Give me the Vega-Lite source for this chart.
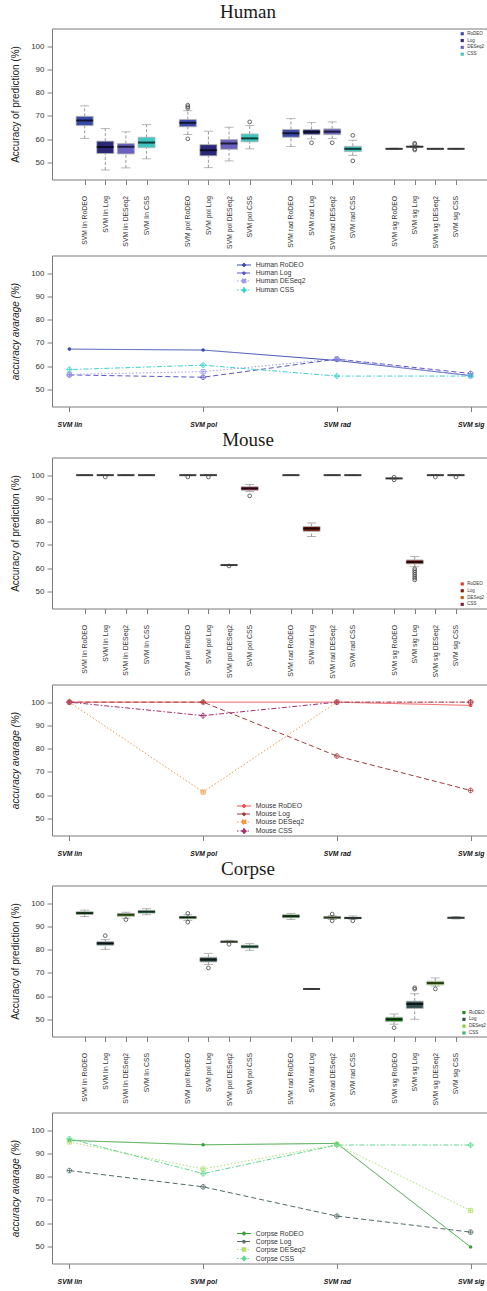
{
"$schema":"https://vega.github.io/schema/vega-lite/v6.json",
"background":"white",
"padding":{"left":10,"top":2.5,"right":0,"bottom":0},
"config":{"view":{"stroke":"#7a7a7a","strokeWidth":1},
"axis":{"domain":false,"grid":false,"tickColor":"#808080","tickSize":5,"labelColor":"#333","labelFont":"Liberation Sans","titleFont":"Liberation Sans","titleFontWeight":"normal","titleColor":"#222","labelFlush":false,"labelOverlap":false,"labelBound":false},
"axisY":{"titleFontSize":10,"titlePadding":10,"labelFontSize":8,"labelPadding":3},
"legend":{"labelFont":"Liberation Sans","labelColor":"#333"}},
"datasets":{
"hbox":[
{"pos":1,"method":"RoDEO","lo":60.3,"q1":65.8,"med":68.0,"q3":69.8,"hi":74.3},
{"pos":2,"method":"Log","lo":46.7,"q1":53.8,"med":56.6,"q3":59.1,"hi":64.5},
{"pos":3,"method":"DESeq2","lo":47.6,"q1":53.6,"med":56.7,"q3":58.1,"hi":63.1},
{"pos":4,"method":"CSS","lo":51.5,"q1":56.3,"med":58.5,"q3":60.8,"hi":66.2},
{"pos":6,"method":"RoDEO","lo":62.0,"q1":65.3,"med":67.0,"q3":68.4,"hi":72.2},
{"pos":7,"method":"Log","lo":47.7,"q1":52.8,"med":55.2,"q3":57.6,"hi":63.4},
{"pos":8,"method":"DESeq2","lo":50.6,"q1":55.6,"med":58.1,"q3":59.8,"hi":65.1},
{"pos":9,"method":"CSS","lo":55.8,"q1":58.8,"med":60.3,"q3":62.2,"hi":65.8},
{"pos":11,"method":"RoDEO","lo":56.8,"q1":60.8,"med":62.5,"q3":64.1,"hi":68.8},
{"pos":12,"method":"Log","lo":60.1,"q1":61.9,"med":63.1,"q3":64.1,"hi":67.1},
{"pos":13,"method":"DESeq2","lo":60.2,"q1":61.9,"med":63.2,"q3":64.4,"hi":67.4},
{"pos":14,"method":"CSS","lo":53.0,"q1":54.6,"med":55.8,"q3":56.9,"hi":59.5},
{"pos":16,"method":"RoDEO","lo":55.5,"q1":55.7,"med":55.8,"q3":55.9,"hi":56.1},
{"pos":17,"method":"Log","lo":56.3,"q1":56.6,"med":56.7,"q3":56.9,"hi":57.2},
{"pos":18,"method":"DESeq2","lo":55.6,"q1":55.7,"med":55.8,"q3":55.9,"hi":56.0},
{"pos":19,"method":"CSS","lo":55.6,"q1":55.7,"med":55.8,"q3":55.9,"hi":56.0}],
"hout":[{"pos":6,"v":74.6},{"pos":6,"v":73.9},{"pos":6,"v":73.3},{"pos":6,"v":60.1},{"pos":9,"v":67.4},{"pos":12,"v":58.4},{"pos":13,"v":58.4},{"pos":14,"v":61.6},{"pos":14,"v":50.6},{"pos":17,"v":58.2},{"pos":17,"v":57.7},{"pos":17,"v":55.8},{"pos":17,"v":55.3}],
"mbox":[
{"pos":1,"method":"RoDEO","lo":100,"q1":100,"med":100,"q3":100,"hi":100},
{"pos":2,"method":"Log","lo":100,"q1":100,"med":100,"q3":100,"hi":100},
{"pos":3,"method":"DESeq2","lo":100,"q1":100,"med":100,"q3":100,"hi":100},
{"pos":4,"method":"CSS","lo":100,"q1":100,"med":100,"q3":100,"hi":100},
{"pos":6,"method":"RoDEO","lo":100,"q1":100,"med":100,"q3":100,"hi":100},
{"pos":7,"method":"Log","lo":100,"q1":100,"med":100,"q3":100,"hi":100},
{"pos":8,"method":"DESeq2","lo":61.2,"q1":61.3,"med":61.3,"q3":61.3,"hi":61.4},
{"pos":9,"method":"CSS","lo":93.0,"q1":93.5,"med":94.3,"q3":95.0,"hi":96.0},
{"pos":11,"method":"RoDEO","lo":100,"q1":100,"med":100,"q3":100,"hi":100},
{"pos":12,"method":"Log","lo":73.6,"q1":75.8,"med":77.0,"q3":77.9,"hi":79.4},
{"pos":13,"method":"DESeq2","lo":100,"q1":100,"med":100,"q3":100,"hi":100},
{"pos":14,"method":"CSS","lo":100,"q1":100,"med":100,"q3":100,"hi":100},
{"pos":16,"method":"RoDEO","lo":98.4,"q1":98.5,"med":98.6,"q3":98.7,"hi":98.8},
{"pos":17,"method":"Log","lo":60.6,"q1":61.8,"med":62.6,"q3":63.5,"hi":65.0},
{"pos":18,"method":"DESeq2","lo":100,"q1":100,"med":100,"q3":100,"hi":100},
{"pos":19,"method":"CSS","lo":100,"q1":100,"med":100,"q3":100,"hi":100}],
"mout":[{"pos":2,"v":99.2},{"pos":6,"v":99.2},{"pos":7,"v":99.2},{"pos":8,"v":60.9},{"pos":9,"v":91.1},{"pos":16,"v":98.0},{"pos":16,"v":99.1},{"pos":17,"v":59.7},{"pos":17,"v":58.9},{"pos":17,"v":58.1},{"pos":17,"v":57.3},{"pos":17,"v":56.5},{"pos":17,"v":55.7},{"pos":17,"v":54.9},{"pos":18,"v":99.2},{"pos":19,"v":99.2}],
"cbox":[
{"pos":1,"method":"RoDEO","lo":94.2,"q1":95.2,"med":95.7,"q3":96.3,"hi":97.0},
{"pos":2,"method":"Log","lo":80.1,"q1":81.9,"med":82.7,"q3":83.4,"hi":84.3},
{"pos":3,"method":"DESeq2","lo":93.5,"q1":94.3,"med":95.0,"q3":95.6,"hi":96.1},
{"pos":4,"method":"CSS","lo":95.0,"q1":95.7,"med":96.3,"q3":96.9,"hi":97.6},
{"pos":6,"method":"RoDEO","lo":92.6,"q1":93.3,"med":93.9,"q3":94.3,"hi":95.0},
{"pos":7,"method":"Log","lo":73.6,"q1":74.7,"med":75.7,"q3":76.7,"hi":78.4},
{"pos":8,"method":"DESeq2","lo":83.0,"q1":83.1,"med":83.4,"q3":83.7,"hi":84.0},
{"pos":9,"method":"CSS","lo":79.7,"q1":80.7,"med":81.3,"q3":81.9,"hi":82.6},
{"pos":11,"method":"RoDEO","lo":93.0,"q1":93.7,"med":94.4,"q3":95.0,"hi":95.6},
{"pos":12,"method":"Log","lo":63.1,"q1":63.1,"med":63.1,"q3":63.1,"hi":63.1},
{"pos":13,"method":"DESeq2","lo":93.0,"q1":93.4,"med":93.8,"q3":94.2,"hi":94.6},
{"pos":14,"method":"CSS","lo":93.0,"q1":93.3,"med":93.6,"q3":94.0,"hi":94.5},
{"pos":16,"method":"RoDEO","lo":47.9,"q1":49.0,"med":50.0,"q3":50.9,"hi":52.3},
{"pos":17,"method":"Log","lo":50.0,"q1":54.7,"med":56.6,"q3":57.8,"hi":61.0},
{"pos":18,"method":"DESeq2","lo":64.3,"q1":64.8,"med":65.6,"q3":66.4,"hi":67.8},
{"pos":19,"method":"CSS","lo":93.2,"q1":93.5,"med":93.7,"q3":93.9,"hi":94.3}],
"cout":[{"pos":2,"v":86.0},{"pos":3,"v":92.9},{"pos":6,"v":95.6},{"pos":6,"v":91.8},{"pos":7,"v":72.1},{"pos":8,"v":82.3},{"pos":13,"v":95.3},{"pos":13,"v":92.4},{"pos":14,"v":92.4},{"pos":16,"v":46.4},{"pos":17,"v":63.0},{"pos":17,"v":63.6},{"pos":18,"v":63.1}],
"hline":[
{"k":1,"method":"Human RoDEO","v":67.3},{"k":2,"method":"Human RoDEO","v":66.9},{"k":3,"method":"Human RoDEO","v":62.4},{"k":4,"method":"Human RoDEO","v":55.9},
{"k":1,"method":"Human Log","v":56.2},{"k":2,"method":"Human Log","v":55.2},{"k":3,"method":"Human Log","v":63.0},{"k":4,"method":"Human Log","v":56.8},
{"k":1,"method":"Human DESeq2","v":56.4},{"k":2,"method":"Human DESeq2","v":57.6},{"k":3,"method":"Human DESeq2","v":63.1},{"k":4,"method":"Human DESeq2","v":55.8},
{"k":1,"method":"Human CSS","v":58.5},{"k":2,"method":"Human CSS","v":60.4},{"k":3,"method":"Human CSS","v":55.7},{"k":4,"method":"Human CSS","v":55.7}],
"mline":[
{"k":1,"method":"Mouse RoDEO","v":100},{"k":2,"method":"Mouse RoDEO","v":100},{"k":3,"method":"Mouse RoDEO","v":100},{"k":4,"method":"Mouse RoDEO","v":98.6},
{"k":1,"method":"Mouse Log","v":100},{"k":2,"method":"Mouse Log","v":100},{"k":3,"method":"Mouse Log","v":76.8},{"k":4,"method":"Mouse Log","v":62.0},
{"k":1,"method":"Mouse DESeq2","v":100},{"k":2,"method":"Mouse DESeq2","v":61.3},{"k":3,"method":"Mouse DESeq2","v":100},{"k":4,"method":"Mouse DESeq2","v":100},
{"k":1,"method":"Mouse CSS","v":100},{"k":2,"method":"Mouse CSS","v":94.2},{"k":3,"method":"Mouse CSS","v":100},{"k":4,"method":"Mouse CSS","v":100}],
"cline":[
{"k":1,"method":"Corpse RoDEO","v":95.6},{"k":2,"method":"Corpse RoDEO","v":93.7},{"k":3,"method":"Corpse RoDEO","v":94.3},{"k":4,"method":"Corpse RoDEO","v":49.7},
{"k":1,"method":"Corpse Log","v":82.6},{"k":2,"method":"Corpse Log","v":75.6},{"k":3,"method":"Corpse Log","v":63.0},{"k":4,"method":"Corpse Log","v":56.1},
{"k":1,"method":"Corpse DESeq2","v":94.9},{"k":2,"method":"Corpse DESeq2","v":83.3},{"k":3,"method":"Corpse DESeq2","v":93.8},{"k":4,"method":"Corpse DESeq2","v":65.4},
{"k":1,"method":"Corpse CSS","v":96.3},{"k":2,"method":"Corpse CSS","v":81.3},{"k":3,"method":"Corpse CSS","v":93.6},{"k":4,"method":"Corpse CSS","v":93.6}]
},
"spacing":0,
"resolve":{"scale":{"color":"independent","strokeDash":"independent","shape":"independent"},"legend":{"color":"independent","strokeDash":"independent","shape":"independent"}},
"vconcat":[
{"bounds":"flush","spacing":76,
"resolve":{"scale":{"color":"independent","strokeDash":"independent","shape":"independent"},"legend":{"color":"independent","strokeDash":"independent","shape":"independent"}},
"vconcat":[
{"width":436,"height":151,
"title":{"text":"Human","font":"Liberation Serif","fontSize":19,"fontWeight":"normal","color":"#1a1a1a","anchor":"middle","frame":"group","dx":-22,"offset":-8.5,"baseline":"alphabetic"},
"data":{"name":"hbox"},
"encoding":{"x":{"field":"pos","type":"quantitative","scale":{"domain":[-0.34,20.31],"nice":false,"zero":false},"axis":{"values":[1,2,3,4,6,7,8,9,11,12,13,14,16,17,18,19],"labelExpr":"['','SVM lin RoDEO','SVM lin Log','SVM lin DESeq2','SVM lin CSS','','SVM pol RoDEO','SVM pol Log','SVM pol DESeq2','SVM pol CSS','','SVM rad RoDEO','SVM rad Log','SVM rad DESeq2','SVM rad CSS','','SVM sig RoDEO','SVM sig Log','SVM sig DESeq2','SVM sig CSS'][datum.value]","title":null,"labelAngle":270,"labelFontSize":6.8,"labelPadding":11}}},
"layer":[
{"mark":{"type":"rule","strokeDash":[3,2],"color":"#8c8c8c","strokeWidth":0.9},"encoding":{"y":{"field":"lo","type":"quantitative","scale":{"domain":[42.6,107.6],"nice":false,"zero":false},"axis":{"values":[50,60,70,80,90,100],"title":"Accuracy of prediction (%)"}},"y2":{"field":"q1"}}},
{"mark":{"type":"rule","strokeDash":[3,2],"color":"#8c8c8c","strokeWidth":0.9},"encoding":{"y":{"field":"q3","type":"quantitative","scale":{"domain":[42.6,107.6],"nice":false,"zero":false},"axis":{"values":[50,60,70,80,90,100],"title":"Accuracy of prediction (%)"}},"y2":{"field":"hi"}}},
{"mark":{"type":"tick","orient":"horizontal","size":9,"thickness":0.9,"color":"#8c8c8c"},"encoding":{"y":{"field":"lo","type":"quantitative","scale":{"domain":[42.6,107.6],"nice":false,"zero":false},"axis":{"values":[50,60,70,80,90,100],"title":"Accuracy of prediction (%)"}}}},
{"mark":{"type":"tick","orient":"horizontal","size":9,"thickness":0.9,"color":"#8c8c8c"},"encoding":{"y":{"field":"hi","type":"quantitative","scale":{"domain":[42.6,107.6],"nice":false,"zero":false},"axis":{"values":[50,60,70,80,90,100],"title":"Accuracy of prediction (%)"}}}},
{"mark":{"type":"bar","size":17,"stroke":"#b4b4b4","strokeWidth":0.8},"encoding":{"y":{"field":"q1","type":"quantitative","scale":{"domain":[42.6,107.6],"nice":false,"zero":false},"axis":{"values":[50,60,70,80,90,100],"title":"Accuracy of prediction (%)"}},"y2":{"field":"q3"},"color":{"field":"method","type":"nominal","scale":{"domain":["RoDEO","Log","DESeq2","CSS"],"range":["#3a4aa8","#2b2878","#6a62c0","#3ec6c0"]},"legend":{"orient":"none","legendX":408,"legendY":3,"title":null,"symbolType":"square","symbolSize":10,"symbolStrokeWidth":0,"labelFontSize":4.5,"labelOffset":2.75,"rowPadding":1.8,"padding":0}}}},
{"mark":{"type":"tick","orient":"horizontal","size":17,"thickness":2,"color":"#000"},"encoding":{"y":{"field":"med","type":"quantitative","scale":{"domain":[42.6,107.6],"nice":false,"zero":false},"axis":{"values":[50,60,70,80,90,100],"title":"Accuracy of prediction (%)"}}}},
{"data":{"name":"hout"},"mark":{"type":"point","shape":"circle","filled":false,"color":"#444","strokeWidth":0.8,"size":14,"opacity":1},"encoding":{"y":{"field":"v","type":"quantitative","scale":{"domain":[42.6,107.6],"nice":false,"zero":false},"axis":{"values":[50,60,70,80,90,100],"title":"Accuracy of prediction (%)"}}}}
]},
{"width":436,"height":151,
"data":{"name":"hline"},
"encoding":{"x":{"field":"k","type":"quantitative","scale":{"domain":[0.87,4.13],"nice":false,"zero":false},"axis":{"values":[1,2,3,4],"labelExpr":"['','SVM lin','SVM pol','SVM rad','SVM sig'][datum.value]","title":null,"labelFontStyle":"italic","labelFontWeight":"bold","labelFontSize":6.8,"labelColor":"#111","labelPadding":10,"labelAngle":0}},
"y":{"field":"v","type":"quantitative","scale":{"domain":[42.6,107.6],"nice":false,"zero":false},"axis":{"values":[50,60,70,80,90,100],"title":"accuracy avarage (%)","titleFontStyle":"italic"}}},
"layer":[
{"mark":{"type":"line","strokeWidth":1},"encoding":{
"color":{"field":"method","type":"nominal","scale":{"domain":["Human RoDEO","Human Log","Human DESeq2","Human CSS"],"range":["#3a4cb0","#5a55c8","#a09ae8","#40d0d0"]},"legend":{"orient":"none","legendX":188,"legendY":5.5,"title":null,"symbolType":"stroke","symbolSize":49,"symbolStrokeWidth":1,"labelFontSize":6.9,"labelOffset":7.7,"rowPadding":-1,"padding":0,"encode":{"symbols":{"update":{"shape":{"signal":"indexof(datum.value,'DESeq2')>=0 ? 'M-2,0L2,0M-0.6,-0.6L0.6,-0.6L0.6,0.6L-0.6,0.6ZM0,-0.6L0,0.6' : indexof(datum.value,'CSS')>=0 ? 'M-2,0L2,0M0,-0.75L0.75,0L0,0.75L-0.75,0ZM0,-0.75L0,0.75' : 'M-2,0L2,0M-0.45,0A0.45,0.45 0 1,0 0.45,0A0.45,0.45 0 1,0 -0.45,0'"},"fill":{"signal":"indexof(datum.value,'RoDEO')>=0 ? '#3a4cb0' : indexof(datum.value,'Log')>=0 ? '#5a55c8' : 'transparent'"}}}}}},
"strokeDash":{"field":"method","type":"nominal","scale":{"domain":["Human RoDEO","Human Log","Human DESeq2","Human CSS"],"range":[[1,0],[5,3],[1.5,2],[1.5,2,5,2]]},"legend":{"orient":"none","legendX":188,"legendY":5.5,"title":null,"symbolType":"stroke","symbolSize":49,"symbolStrokeWidth":1,"labelFontSize":6.9,"labelOffset":7.7,"rowPadding":-1,"padding":0}}}},
{"transform":[{"filter":"datum.method == 'Human RoDEO'"}],"mark":{"type":"point","shape":"circle","filled":true,"size":13,"opacity":1},"encoding":{"color":{"field":"method","type":"nominal","scale":{"domain":["Human RoDEO","Human Log","Human DESeq2","Human CSS"],"range":["#3a4cb0","#5a55c8","#a09ae8","#40d0d0"]},"legend":null}}},
{"transform":[{"filter":"datum.method != 'Human RoDEO'"}],"mark":{"type":"point","filled":false,"size":22,"strokeWidth":0.8,"opacity":1},"encoding":{"color":{"field":"method","type":"nominal","scale":{"domain":["Human RoDEO","Human Log","Human DESeq2","Human CSS"],"range":["#3a4cb0","#5a55c8","#a09ae8","#40d0d0"]},"legend":null},"shape":{"field":"method","type":"nominal","scale":{"domain":["Human Log","Human DESeq2","Human CSS"],"range":["M-1,0A1,1 0 1,0 1,0A1,1 0 1,0 -1,0ZM-1,0L1,0M0,-1L0,1","M-0.9,-0.9L0.9,-0.9L0.9,0.9L-0.9,0.9ZM-0.9,0L0.9,0M0,-0.9L0,0.9","M0,-1.2L1.2,0L0,1.2L-1.2,0ZM-1.2,0L1.2,0M0,-1.2L0,1.2"]},"legend":null}}}
]}
]},
{"bounds":"flush","spacing":76,
"resolve":{"scale":{"color":"independent","strokeDash":"independent","shape":"independent"},"legend":{"color":"independent","strokeDash":"independent","shape":"independent"}},
"vconcat":[
{"width":436,"height":151,
"title":{"text":"Mouse","font":"Liberation Serif","fontSize":19,"fontWeight":"normal","color":"#1a1a1a","anchor":"middle","frame":"group","dx":-22,"offset":-7,"baseline":"alphabetic"},
"data":{"name":"mbox"},
"encoding":{"x":{"field":"pos","type":"quantitative","scale":{"domain":[-0.34,20.31],"nice":false,"zero":false},"axis":{"values":[1,2,3,4,6,7,8,9,11,12,13,14,16,17,18,19],"labelExpr":"['','SVM lin RoDEO','SVM lin Log','SVM lin DESeq2','SVM lin CSS','','SVM pol RoDEO','SVM pol Log','SVM pol DESeq2','SVM pol CSS','','SVM rad RoDEO','SVM rad Log','SVM rad DESeq2','SVM rad CSS','','SVM sig RoDEO','SVM sig Log','SVM sig DESeq2','SVM sig CSS'][datum.value]","title":null,"labelAngle":270,"labelFontSize":6.8,"labelPadding":11}}},
"layer":[
{"mark":{"type":"rule","strokeDash":[3,2],"color":"#8c8c8c","strokeWidth":0.9},"encoding":{"y":{"field":"lo","type":"quantitative","scale":{"domain":[42.6,107.6],"nice":false,"zero":false},"axis":{"values":[50,60,70,80,90,100],"title":"Accuracy of prediction (%)"}},"y2":{"field":"q1"}}},
{"mark":{"type":"rule","strokeDash":[3,2],"color":"#8c8c8c","strokeWidth":0.9},"encoding":{"y":{"field":"q3","type":"quantitative","scale":{"domain":[42.6,107.6],"nice":false,"zero":false},"axis":{"values":[50,60,70,80,90,100],"title":"Accuracy of prediction (%)"}},"y2":{"field":"hi"}}},
{"mark":{"type":"tick","orient":"horizontal","size":9,"thickness":0.9,"color":"#8c8c8c"},"encoding":{"y":{"field":"lo","type":"quantitative","scale":{"domain":[42.6,107.6],"nice":false,"zero":false},"axis":{"values":[50,60,70,80,90,100],"title":"Accuracy of prediction (%)"}}}},
{"mark":{"type":"tick","orient":"horizontal","size":9,"thickness":0.9,"color":"#8c8c8c"},"encoding":{"y":{"field":"hi","type":"quantitative","scale":{"domain":[42.6,107.6],"nice":false,"zero":false},"axis":{"values":[50,60,70,80,90,100],"title":"Accuracy of prediction (%)"}}}},
{"mark":{"type":"bar","size":17,"stroke":"#b4b4b4","strokeWidth":0.8},"encoding":{"y":{"field":"q1","type":"quantitative","scale":{"domain":[42.6,107.6],"nice":false,"zero":false},"axis":{"values":[50,60,70,80,90,100],"title":"Accuracy of prediction (%)"}},"y2":{"field":"q3"},"color":{"field":"method","type":"nominal","scale":{"domain":["RoDEO","Log","DESeq2","CSS"],"range":["#e03a28","#7a1c14","#c8620e","#861846"]},"legend":{"orient":"none","legendX":408,"legendY":124.2,"title":null,"symbolType":"square","symbolSize":10,"symbolStrokeWidth":0,"labelFontSize":4.5,"labelOffset":2.75,"rowPadding":1.8,"padding":0}}}},
{"mark":{"type":"tick","orient":"horizontal","size":17,"thickness":2,"color":"#000"},"encoding":{"y":{"field":"med","type":"quantitative","scale":{"domain":[42.6,107.6],"nice":false,"zero":false},"axis":{"values":[50,60,70,80,90,100],"title":"Accuracy of prediction (%)"}}}},
{"data":{"name":"mout"},"mark":{"type":"point","shape":"circle","filled":false,"color":"#444","strokeWidth":0.8,"size":14,"opacity":1},"encoding":{"y":{"field":"v","type":"quantitative","scale":{"domain":[42.6,107.6],"nice":false,"zero":false},"axis":{"values":[50,60,70,80,90,100],"title":"Accuracy of prediction (%)"}}}}
]},
{"width":436,"height":151,
"data":{"name":"mline"},
"encoding":{"x":{"field":"k","type":"quantitative","scale":{"domain":[0.87,4.13],"nice":false,"zero":false},"axis":{"values":[1,2,3,4],"labelExpr":"['','SVM lin','SVM pol','SVM rad','SVM sig'][datum.value]","title":null,"labelFontStyle":"italic","labelFontWeight":"bold","labelFontSize":6.8,"labelColor":"#111","labelPadding":10,"labelAngle":0}},
"y":{"field":"v","type":"quantitative","scale":{"domain":[42.6,107.6],"nice":false,"zero":false},"axis":{"values":[50,60,70,80,90,100],"title":"accuracy avarage (%)","titleFontStyle":"italic"}}},
"layer":[
{"mark":{"type":"line","strokeWidth":1},"encoding":{
"color":{"field":"method","type":"nominal","scale":{"domain":["Mouse RoDEO","Mouse Log","Mouse DESeq2","Mouse CSS"],"range":["#ee5050","#a03c3c","#f09a48","#a0306e"]},"legend":{"orient":"none","legendX":188,"legendY":117.5,"title":null,"symbolType":"stroke","symbolSize":49,"symbolStrokeWidth":1,"labelFontSize":6.9,"labelOffset":7.7,"rowPadding":-1,"padding":0,"encode":{"symbols":{"update":{"shape":{"signal":"indexof(datum.value,'DESeq2')>=0 ? 'M-2,0L2,0M-0.6,-0.6L0.6,-0.6L0.6,0.6L-0.6,0.6ZM0,-0.6L0,0.6' : indexof(datum.value,'CSS')>=0 ? 'M-2,0L2,0M0,-0.75L0.75,0L0,0.75L-0.75,0ZM0,-0.75L0,0.75' : 'M-2,0L2,0M-0.45,0A0.45,0.45 0 1,0 0.45,0A0.45,0.45 0 1,0 -0.45,0'"},"fill":{"signal":"indexof(datum.value,'RoDEO')>=0 ? '#ee5050' : indexof(datum.value,'Log')>=0 ? '#a03c3c' : 'transparent'"}}}}}},
"strokeDash":{"field":"method","type":"nominal","scale":{"domain":["Mouse RoDEO","Mouse Log","Mouse DESeq2","Mouse CSS"],"range":[[1,0],[5,3],[1.5,2],[1.5,2,5,2]]},"legend":{"orient":"none","legendX":188,"legendY":117.5,"title":null,"symbolType":"stroke","symbolSize":49,"symbolStrokeWidth":1,"labelFontSize":6.9,"labelOffset":7.7,"rowPadding":-1,"padding":0}}}},
{"transform":[{"filter":"datum.method == 'Mouse RoDEO'"}],"mark":{"type":"point","shape":"circle","filled":true,"size":13,"opacity":1},"encoding":{"color":{"field":"method","type":"nominal","scale":{"domain":["Mouse RoDEO","Mouse Log","Mouse DESeq2","Mouse CSS"],"range":["#e03a3a","#a03c3c","#f09a48","#a0306e"]},"legend":null}}},
{"transform":[{"filter":"datum.method != 'Mouse RoDEO'"}],"mark":{"type":"point","filled":false,"size":22,"strokeWidth":0.8,"opacity":1},"encoding":{"color":{"field":"method","type":"nominal","scale":{"domain":["Mouse RoDEO","Mouse Log","Mouse DESeq2","Mouse CSS"],"range":["#e03a3a","#a03c3c","#f09a48","#a0306e"]},"legend":null},"shape":{"field":"method","type":"nominal","scale":{"domain":["Mouse Log","Mouse DESeq2","Mouse CSS"],"range":["M-1,0A1,1 0 1,0 1,0A1,1 0 1,0 -1,0ZM-1,0L1,0M0,-1L0,1","M-0.9,-0.9L0.9,-0.9L0.9,0.9L-0.9,0.9ZM-0.9,0L0.9,0M0,-0.9L0,0.9","M0,-1.2L1.2,0L0,1.2L-1.2,0ZM-1.2,0L1.2,0M0,-1.2L0,1.2"]},"legend":null}}}
]}
]},
{"bounds":"flush","spacing":76,
"resolve":{"scale":{"color":"independent","strokeDash":"independent","shape":"independent"},"legend":{"color":"independent","strokeDash":"independent","shape":"independent"}},
"vconcat":[
{"width":436,"height":151,
"title":{"text":"Corpse","font":"Liberation Serif","fontSize":19,"fontWeight":"normal","color":"#1a1a1a","anchor":"middle","frame":"group","dx":-22,"offset":-8,"baseline":"alphabetic"},
"data":{"name":"cbox"},
"encoding":{"x":{"field":"pos","type":"quantitative","scale":{"domain":[-0.34,20.31],"nice":false,"zero":false},"axis":{"values":[1,2,3,4,6,7,8,9,11,12,13,14,16,17,18,19],"labelExpr":"['','SVM lin RoDEO','SVM lin Log','SVM lin DESeq2','SVM lin CSS','','SVM pol RoDEO','SVM pol Log','SVM pol DESeq2','SVM pol CSS','','SVM rad RoDEO','SVM rad Log','SVM rad DESeq2','SVM rad CSS','','SVM sig RoDEO','SVM sig Log','SVM sig DESeq2','SVM sig CSS'][datum.value]","title":null,"labelAngle":270,"labelFontSize":6.8,"labelPadding":11}}},
"layer":[
{"mark":{"type":"rule","strokeDash":[3,2],"color":"#8c8c8c","strokeWidth":0.9},"encoding":{"y":{"field":"lo","type":"quantitative","scale":{"domain":[42.6,107.6],"nice":false,"zero":false},"axis":{"values":[50,60,70,80,90,100],"title":"Accuracy of prediction (%)"}},"y2":{"field":"q1"}}},
{"mark":{"type":"rule","strokeDash":[3,2],"color":"#8c8c8c","strokeWidth":0.9},"encoding":{"y":{"field":"q3","type":"quantitative","scale":{"domain":[42.6,107.6],"nice":false,"zero":false},"axis":{"values":[50,60,70,80,90,100],"title":"Accuracy of prediction (%)"}},"y2":{"field":"hi"}}},
{"mark":{"type":"tick","orient":"horizontal","size":9,"thickness":0.9,"color":"#8c8c8c"},"encoding":{"y":{"field":"lo","type":"quantitative","scale":{"domain":[42.6,107.6],"nice":false,"zero":false},"axis":{"values":[50,60,70,80,90,100],"title":"Accuracy of prediction (%)"}}}},
{"mark":{"type":"tick","orient":"horizontal","size":9,"thickness":0.9,"color":"#8c8c8c"},"encoding":{"y":{"field":"hi","type":"quantitative","scale":{"domain":[42.6,107.6],"nice":false,"zero":false},"axis":{"values":[50,60,70,80,90,100],"title":"Accuracy of prediction (%)"}}}},
{"mark":{"type":"bar","size":17,"stroke":"#b4b4b4","strokeWidth":0.8},"encoding":{"y":{"field":"q1","type":"quantitative","scale":{"domain":[42.6,107.6],"nice":false,"zero":false},"axis":{"values":[50,60,70,80,90,100],"title":"Accuracy of prediction (%)"}},"y2":{"field":"q3"},"color":{"field":"method","type":"nominal","scale":{"domain":["RoDEO","Log","DESeq2","CSS"],"range":["#1e8a1e","#2f4f4f","#80cc3a","#3cb371"]},"legend":{"orient":"none","legendX":409.7,"legendY":124.8,"title":null,"symbolType":"square","symbolSize":10,"symbolStrokeWidth":0,"labelFontSize":4.5,"labelOffset":2.75,"rowPadding":1.8,"padding":0}}}},
{"mark":{"type":"tick","orient":"horizontal","size":17,"thickness":2,"color":"#000"},"encoding":{"y":{"field":"med","type":"quantitative","scale":{"domain":[42.6,107.6],"nice":false,"zero":false},"axis":{"values":[50,60,70,80,90,100],"title":"Accuracy of prediction (%)"}}}},
{"data":{"name":"cout"},"mark":{"type":"point","shape":"circle","filled":false,"color":"#444","strokeWidth":0.8,"size":14,"opacity":1},"encoding":{"y":{"field":"v","type":"quantitative","scale":{"domain":[42.6,107.6],"nice":false,"zero":false},"axis":{"values":[50,60,70,80,90,100],"title":"Accuracy of prediction (%)"}}}}
]},
{"width":436,"height":151,
"data":{"name":"cline"},
"encoding":{"x":{"field":"k","type":"quantitative","scale":{"domain":[0.87,4.13],"nice":false,"zero":false},"axis":{"values":[1,2,3,4],"labelExpr":"['','SVM lin','SVM pol','SVM rad','SVM sig'][datum.value]","title":null,"labelFontStyle":"italic","labelFontWeight":"bold","labelFontSize":6.8,"labelColor":"#111","labelPadding":10,"labelAngle":0}},
"y":{"field":"v","type":"quantitative","scale":{"domain":[42.6,107.6],"nice":false,"zero":false},"axis":{"values":[50,60,70,80,90,100],"title":"accuracy avarage (%)","titleFontStyle":"italic"}}},
"layer":[
{"mark":{"type":"line","strokeWidth":1},"encoding":{
"color":{"field":"method","type":"nominal","scale":{"domain":["Corpse RoDEO","Corpse Log","Corpse DESeq2","Corpse CSS"],"range":["#38a038","#506a6a","#b0e070","#5ed890"]},"legend":{"orient":"none","legendX":188,"legendY":117,"title":null,"symbolType":"stroke","symbolSize":49,"symbolStrokeWidth":1,"labelFontSize":6.9,"labelOffset":7.7,"rowPadding":-1,"padding":0,"encode":{"symbols":{"update":{"shape":{"signal":"indexof(datum.value,'DESeq2')>=0 ? 'M-2,0L2,0M-0.6,-0.6L0.6,-0.6L0.6,0.6L-0.6,0.6ZM0,-0.6L0,0.6' : indexof(datum.value,'CSS')>=0 ? 'M-2,0L2,0M0,-0.75L0.75,0L0,0.75L-0.75,0ZM0,-0.75L0,0.75' : 'M-2,0L2,0M-0.45,0A0.45,0.45 0 1,0 0.45,0A0.45,0.45 0 1,0 -0.45,0'"},"fill":{"signal":"indexof(datum.value,'RoDEO')>=0 ? '#1e8a1e' : indexof(datum.value,'Log')>=0 ? '#506a6a' : 'transparent'"}}}}}},
"strokeDash":{"field":"method","type":"nominal","scale":{"domain":["Corpse RoDEO","Corpse Log","Corpse DESeq2","Corpse CSS"],"range":[[1,0],[5,3],[1.5,2],[1.5,2,5,2]]},"legend":{"orient":"none","legendX":188,"legendY":117,"title":null,"symbolType":"stroke","symbolSize":49,"symbolStrokeWidth":1,"labelFontSize":6.9,"labelOffset":7.7,"rowPadding":-1,"padding":0}}}},
{"transform":[{"filter":"datum.method == 'Corpse RoDEO'"}],"mark":{"type":"point","shape":"circle","filled":true,"size":13,"opacity":1},"encoding":{"color":{"field":"method","type":"nominal","scale":{"domain":["Corpse RoDEO","Corpse Log","Corpse DESeq2","Corpse CSS"],"range":["#1e8a1e","#506a6a","#b0e070","#5ed890"]},"legend":null}}},
{"transform":[{"filter":"datum.method != 'Corpse RoDEO'"}],"mark":{"type":"point","filled":false,"size":22,"strokeWidth":0.8,"opacity":1},"encoding":{"color":{"field":"method","type":"nominal","scale":{"domain":["Corpse RoDEO","Corpse Log","Corpse DESeq2","Corpse CSS"],"range":["#1e8a1e","#3f5a5a","#a0d860","#50d080"]},"legend":null},"shape":{"field":"method","type":"nominal","scale":{"domain":["Corpse Log","Corpse DESeq2","Corpse CSS"],"range":["M-1,0A1,1 0 1,0 1,0A1,1 0 1,0 -1,0ZM-1,0L1,0M0,-1L0,1","M-0.9,-0.9L0.9,-0.9L0.9,0.9L-0.9,0.9ZM-0.9,0L0.9,0M0,-0.9L0,0.9","M0,-1.2L1.2,0L0,1.2L-1.2,0ZM-1.2,0L1.2,0M0,-1.2L0,1.2"]},"legend":null}}}
]}
]}
]
}
